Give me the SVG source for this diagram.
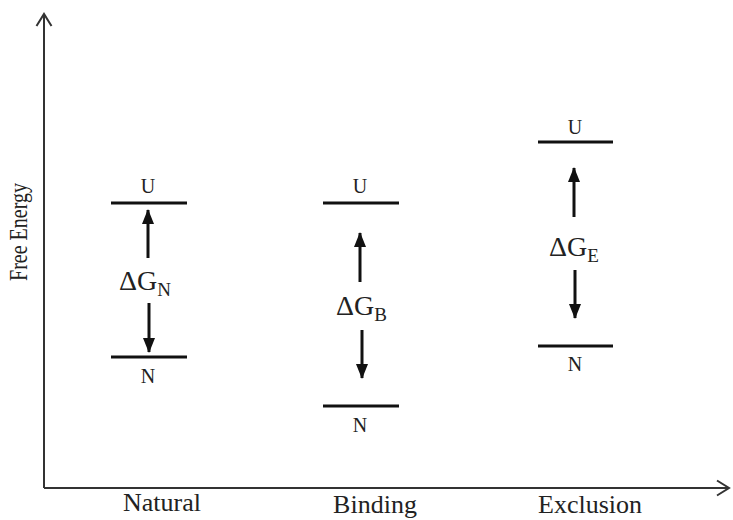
<svg xmlns="http://www.w3.org/2000/svg" width="733" height="520" viewBox="0 0 733 520">
<style>
.axis{stroke:#333;stroke-width:2;fill:none}
.level{stroke:#111;stroke-width:3;fill:none}
.arr{stroke:#111;stroke-width:3;fill:none}
text{font-family:"Liberation Serif","Times New Roman",serif;fill:#222}
.st{font-size:20px;text-anchor:middle}
.dg{font-size:28px}
.sub{font-size:19px}
.cat{font-size:26px;text-anchor:middle}
</style>
<defs>
<marker id="head" markerUnits="userSpaceOnUse" markerWidth="16" markerHeight="16" viewBox="0 0 16 16" refX="14" refY="8" orient="auto">
<path d="M0,2 L15,8 L0,14 Z" fill="#111"/>
</marker>
</defs>
<g id="axes">
<path class="axis" d="M44,488 V14 M36.5,26 L44,14 L51.5,26"/>
<path class="axis" d="M44,488 H729 M717,480.5 L729,488 L717,495.5"/>
<text transform="translate(27 232) rotate(-90) scale(0.8 1)" x="0" y="0" style="font-size:25px;text-anchor:middle">Free Energy</text>
</g>
<g id="natural">
<line class="level" x1="111" y1="203" x2="187" y2="203"/>
<text class="st" x="148" y="193">U</text>
<line class="level" x1="111" y1="357" x2="187" y2="357"/>
<text class="st" x="148" y="383">N</text>
<text class="dg" x="119" y="290">ΔG<tspan class="sub" dy="6">N</tspan></text>
<text class="cat" x="162" y="511">Natural</text>
</g>
<g id="binding">
<line class="level" x1="323" y1="203" x2="399" y2="203"/>
<text class="st" x="360" y="193">U</text>
<line class="level" x1="323" y1="406" x2="399" y2="406"/>
<text class="st" x="360" y="432">N</text>
<text class="dg" x="336" y="315">ΔG<tspan class="sub" dy="6">B</tspan></text>
<text class="cat" x="375" y="513">Binding</text>
</g>
<g id="exclusion">
<line class="level" x1="538" y1="142" x2="613" y2="142"/>
<text class="st" x="575" y="134">U</text>
<line class="level" x1="538" y1="346" x2="613" y2="346"/>
<text class="st" x="575" y="371">N</text>
<text class="dg" x="549" y="256">ΔG<tspan class="sub" dy="6">E</tspan></text>
<text class="cat" x="590" y="513">Exclusion</text>
</g>
<g id="connectors">
<line class="arr" x1="148" y1="258" x2="148" y2="210" marker-end="url(#head)"/>
<line class="arr" x1="149" y1="303" x2="149" y2="352" marker-end="url(#head)"/>
<line class="arr" x1="360" y1="282" x2="360" y2="233" marker-end="url(#head)"/>
<line class="arr" x1="362" y1="330" x2="362" y2="378" marker-end="url(#head)"/>
<line class="arr" x1="574" y1="217" x2="574" y2="168" marker-end="url(#head)"/>
<line class="arr" x1="575" y1="270" x2="575" y2="318" marker-end="url(#head)"/>
</g>
</svg>
